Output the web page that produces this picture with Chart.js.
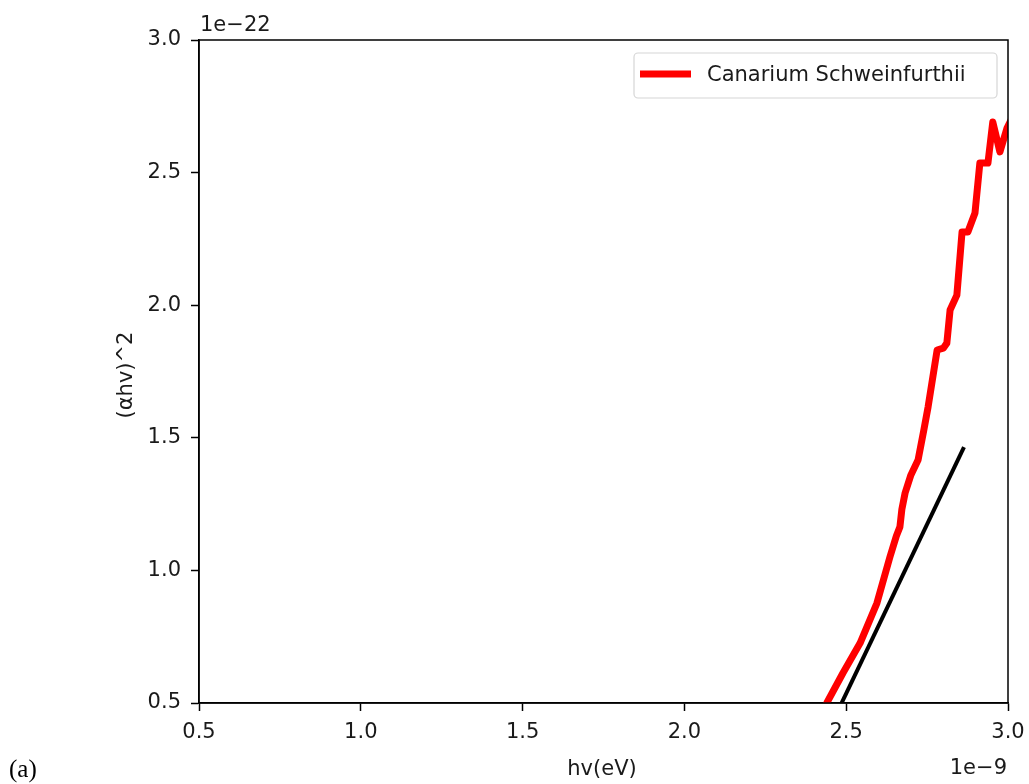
<!DOCTYPE html>
<html>
<head>
<meta charset="utf-8">
<script src="https://cdn.jsdelivr.net/npm/chart.js@4.4.1/dist/chart.umd.min.js"></script>
<style>
  html,body{margin:0;padding:0;background:#fff;}
  #wrap{width:1029px;height:784px;position:relative;}
</style>
</head>
<body>
<div id="wrap"><canvas id="c" width="1029" height="784"></canvas></div>
<script>
// ---- data (hv in eV, (αhv)^2) ----
const redHv = [2.430e-9, 2.440e-9, 2.490e-9, 2.543e-9, 2.595e-9, 2.635e-9, 2.655e-9, 2.666e-9, 2.672e-9, 2.682e-9, 2.700e-9, 2.722e-9, 2.740e-9, 2.753e-9, 2.781e-9, 2.800e-9, 2.811e-9, 2.821e-9, 2.842e-9, 2.858e-9, 2.876e-9, 2.898e-9, 2.913e-9, 2.938e-9, 2.953e-9, 2.975e-9, 2.997e-9, 3.010e-9];
const redAlpha = [0.48e-22, 0.500e-22, 0.613e-22, 0.726e-22, 0.877e-22, 1.050e-22, 1.130e-22, 1.164e-22, 1.230e-22, 1.292e-22, 1.360e-22, 1.416e-22, 1.530e-22, 1.616e-22, 1.831e-22, 1.838e-22, 1.857e-22, 1.982e-22, 2.038e-22, 2.276e-22, 2.276e-22, 2.348e-22, 2.536e-22, 2.536e-22, 2.691e-22, 2.578e-22, 2.668e-22, 2.700e-22];
const fitHv = [2.480e-9, 2.864e-9];
const fitAlpha = [0.485e-22, 1.465e-22];
const xTicks = [0.5, 1.0, 1.5, 2.0, 2.5, 3.0];
const yTicks = [0.5, 1.0, 1.5, 2.0, 2.5, 3.0];
const seriesLabel = 'Canarium Schweinfurthii';
const xTitle = 'hv(eV)';
const yTitle = '(αhv)^2';
const xOffsetText = '1e\u22129';
const yOffsetText = '1e\u221222';
const panelLabel = '(a)';
const X_SCALE = 1e-9, Y_SCALE = 1e-22;

const toPts = (xs, ys) => xs.map((x, i) => ({x: x, y: ys[i]}));
const FONT = 'DejaVu Sans';
const TXT = '#1a1a1a';

const overlay = {
  id: 'overlay',
  afterDraw(chart) {
    const ctx = chart.ctx, a = chart.chartArea;
    ctx.save();
    // frame
    ctx.strokeStyle = '#000';
    ctx.lineWidth = 1.5;
    ctx.strokeRect(a.left, a.top, a.right - a.left, a.bottom - a.top);
    // texts
    ctx.fillStyle = TXT;
    ctx.font = '21px "' + FONT + '"';
    ctx.textBaseline = 'alphabetic';
    ctx.textAlign = 'left';
    ctx.fillText(yOffsetText, 200, 31);
    ctx.textAlign = 'right';
    ctx.fillText(xOffsetText, 1007, 774);
    ctx.textAlign = 'center';
    ctx.fillText(xTitle, 602, 775);
    ctx.save();
    ctx.translate(132, 375);
    ctx.rotate(-Math.PI / 2);
    ctx.textAlign = 'center';
    ctx.fillText(yTitle, 0, 0);
    ctx.restore();
    ctx.font = '25px "Liberation Serif"';
    ctx.textAlign = 'left';
    ctx.fillStyle = '#000';
    ctx.fillText(panelLabel, 9, 777);
    // legend
    const lx = 634, ly = 53, lw = 363, lh = 45, r = 4;
    ctx.beginPath();
    ctx.moveTo(lx + r, ly);
    ctx.arcTo(lx + lw, ly, lx + lw, ly + lh, r);
    ctx.arcTo(lx + lw, ly + lh, lx, ly + lh, r);
    ctx.arcTo(lx, ly + lh, lx, ly, r);
    ctx.arcTo(lx, ly, lx + lw, ly, r);
    ctx.closePath();
    ctx.fillStyle = 'rgba(255,255,255,0.85)';
    ctx.fill();
    ctx.strokeStyle = '#d6d6d6';
    ctx.lineWidth = 1.2;
    ctx.stroke();
    ctx.strokeStyle = '#ff0000';
    ctx.lineWidth = 7;
    ctx.lineCap = 'butt';
    ctx.beginPath();
    ctx.moveTo(640, 74);
    ctx.lineTo(691, 74);
    ctx.stroke();
    ctx.fillStyle = TXT;
    ctx.font = '21px "' + FONT + '"';
    ctx.textAlign = 'left';
    ctx.textBaseline = 'middle';
    ctx.fillText(seriesLabel, 707, 76);
    ctx.restore();
  }
};

new Chart(document.getElementById('c'), {
  type: 'scatter',
  data: {
    datasets: [
      {
        label: seriesLabel,
        data: toPts(redHv, redAlpha),
        showLine: true,
        borderColor: '#ff0000',
        backgroundColor: '#ff0000',
        borderWidth: 7,
        pointRadius: 0,
        tension: 0,
        clip: 0,
        borderJoinStyle: 'round',
        borderCapStyle: 'round'
      },
      {
        label: 'fit',
        data: toPts(fitHv, fitAlpha),
        showLine: true,
        borderColor: '#000000',
        backgroundColor: '#000000',
        borderWidth: 4,
        pointRadius: 0,
        clip: 0
      }
    ]
  },
  options: {
    responsive: false,
    animation: false,
    devicePixelRatio: 1,
    layout: { padding: { left: 0, right: 21, top: 40, bottom: 0 } },
    plugins: {
      legend: { display: false },
      tooltip: { enabled: false },
      title: { display: false }
    },
    scales: {
      x: {
        type: 'linear',
        min: xTicks[0] * X_SCALE,
        max: xTicks[xTicks.length - 1] * X_SCALE,
        afterBuildTicks: (s) => { s.ticks = xTicks.map(v => ({value: v * X_SCALE})); },
        afterFit: (s) => { s.height = 81; s.paddingLeft = 0; s.paddingRight = 0; },
        ticks: {
          callback: (v) => (v / X_SCALE).toFixed(1),
          font: { family: FONT, size: 21 },
          color: TXT,
          padding: 9,
          maxRotation: 0,
          autoSkip: false
        },
        grid: { display: true, drawOnChartArea: false, drawTicks: true, tickLength: 8, tickColor: '#000', tickWidth: 1.5 },
        border: { display: true, color: '#000', width: 1.5 }
      },
      y: {
        type: 'linear',
        min: yTicks[0] * Y_SCALE,
        max: yTicks[yTicks.length - 1] * Y_SCALE,
        afterBuildTicks: (s) => { s.ticks = yTicks.map(v => ({value: v * Y_SCALE})); },
        afterFit: (s) => { s.width = 199; s.paddingTop = 0; s.paddingBottom = 0; },
        ticks: {
          callback: (v) => (v / Y_SCALE).toFixed(1),
          font: { family: FONT, size: 21 },
          color: TXT,
          padding: 10,
          autoSkip: false
        },
        grid: { display: true, drawOnChartArea: false, drawTicks: true, tickLength: 8, tickColor: '#000', tickWidth: 1.5 },
        border: { display: true, color: '#000', width: 1.5 }
      }
    }
  },
  plugins: [overlay]
});
</script>
</body>
</html>
